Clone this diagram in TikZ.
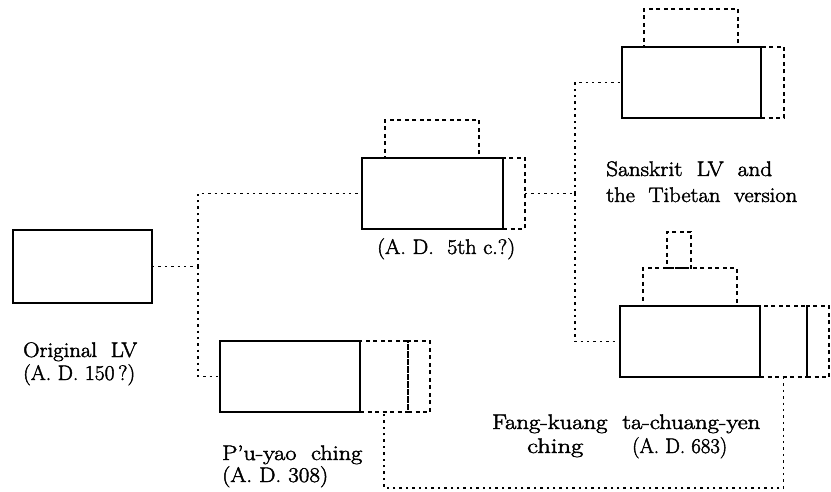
\documentclass[tikz,border=0pt]{standalone}
\usepackage{fontspec}
\setmainfont{Latin Modern Roman}[FakeBold=2]
\usetikzlibrary{calc}
% set a label to a given width, keeping its natural height
\newcommand\fitw[2]{\resizebox{#1}{\height}{#2}}
\begin{document}
\begin{tikzpicture}[x=1pt,y=-1pt,
  box/.style={draw, line width=1.9pt, inner sep=0pt, outer sep=0pt, fill=white},
  ext/.style={draw, line width=1.7pt, dash pattern=on 4pt off 3.5pt, inner sep=0pt, outer sep=0pt},
  link/.style={line width=1.8pt, dash pattern=on 2.4pt off 4pt},
  lbl/.style={inner sep=0pt, anchor=base west, font=\fontsize{21}{25}\selectfont}]
\useasboundingbox (0,0) rectangle (831,492);

% dashed additions drawn first, so the solid boxes sit on top
\node[ext, minimum width=94pt, minimum height=38pt] (Bt) at (432,139) {};
\node[ext, minimum width=22pt, minimum height=71pt] (Bx) at (514,193.5) {};
\node[ext, minimum width=94pt, minimum height=38pt] (Dt) at (691,28) {};
\node[ext, minimum width=23pt, minimum height=71pt] (Dx) at (772.5,82.5) {};
\node[ext, minimum width=48pt, minimum height=71pt] (Cx1) at (384,376.5) {};
\node[ext, minimum width=22pt, minimum height=71pt] (Cx2) at (419,376.5) {};
\node[ext, minimum width=24pt, minimum height=36pt] (Es) at (679,250) {};
\node[ext, minimum width=94pt, minimum height=38pt] (Et) at (690,287) {};
\node[ext, minimum width=47pt, minimum height=71pt] (Ex1) at (783.5,341.5) {};
\node[ext, minimum width=22pt, minimum height=71pt] (Ex2) at (818,341.5) {};

% text boxes
\node[box, minimum width=139pt, minimum height=73pt] (A) at (82.5,266.5) {};
\node[box, minimum width=141pt, minimum height=71pt] (B) at (432.5,193.5) {};
\node[box, minimum width=140pt, minimum height=71pt] (C) at (290,376.5) {};
\node[box, minimum width=139pt, minimum height=71pt] (D) at (691.5,82.5) {};
\node[box, minimum width=140pt, minimum height=71pt] (E) at (690,341.5) {};

% junctions
\coordinate (j1) at (198,266.5);
\coordinate (j2) at (575,193.5);
\coordinate (low) at (0,488);

% connectors
\draw[link] (A.east) -- (j1);
\draw[link] (j1) |- (B.west);
\draw[link] (j1) |- (C.west);
\draw[link] (Bx.east) -- (j2);
\draw[link] (j2) |- (D.west);
\draw[link] (j2) |- (E.west);
\draw[link] (Ex1.south) -- (Ex1.south |- low) -| (Cx1.south);

% labels
\node[lbl] (la1) at (23,357) {\fitw{114pt}{Original\ \ LV}};
\node[lbl] (la2) at (23,380) {\fitw{112pt}{(A.\ D.\ 150\,?)}};
\node[lbl] (lb1) at (377,254) {\fitw{138pt}{(A.\ D.\ \ 5th c.?)}};
\node[lbl] (lc1) at (222,460) {\fitw{140pt}{P'u-yao\ \ ching}};
\node[lbl] (lc2) at (222,482) {\fitw{106pt}{(A.\ D.\ 308)}};
\node[lbl] (ld1) at (606,176) {\fitw{166pt}{Sanskrit\ \ LV\ \ and}};
\node[lbl] (ld2) at (606,202) {\fitw{191pt}{the\ \ Tibetan\ \ version}};
\node[lbl] (le1) at (492,429) {\fitw{268pt}{Fang-kuang\ \ ta-chuang-yen}};
\node[lbl] (le2) at (527,453) {\fitw{56pt}{ching}};
\node[lbl] (le3) at (632,453) {\fitw{95pt}{(A.\ D.\ 683)}};
\end{tikzpicture}
\end{document}
